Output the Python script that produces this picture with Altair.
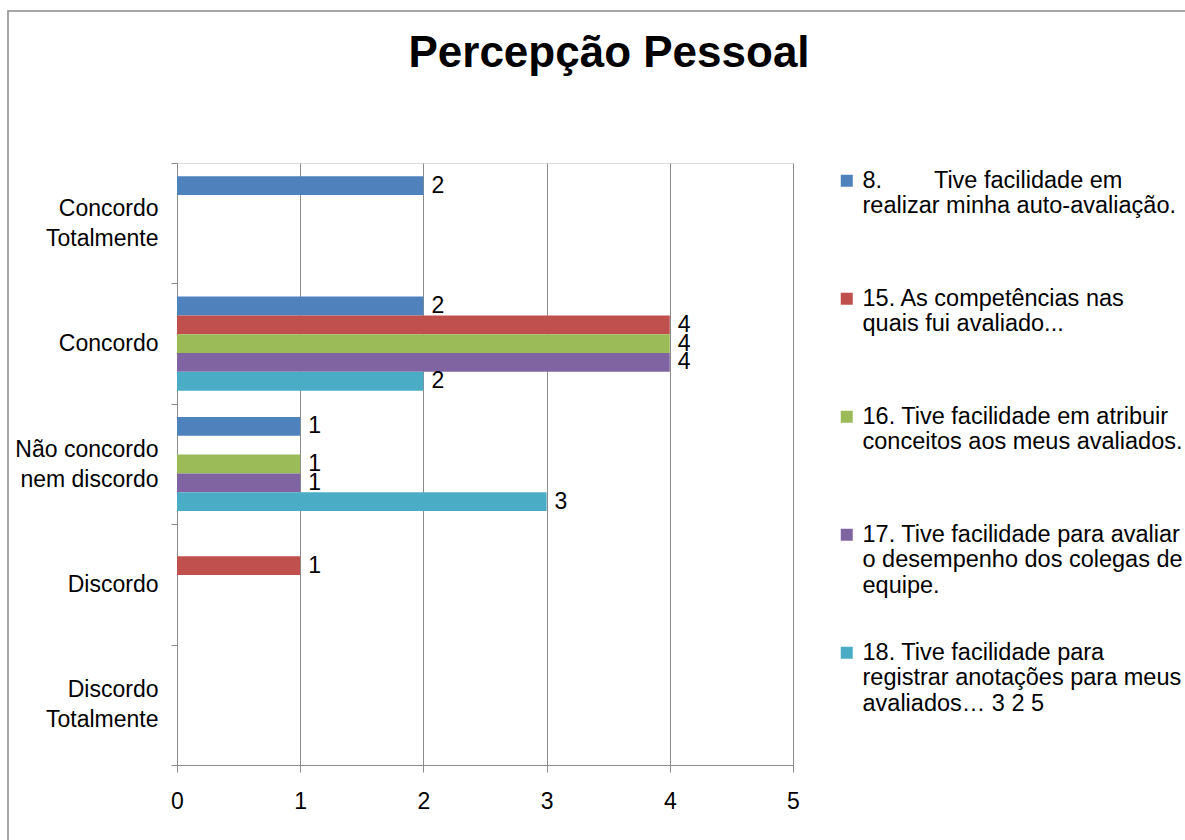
import json
import altair as alt
import pandas as pd

FONT = "Liberation Sans"

# Answer categories, top to bottom, and how each label is broken into lines
categories = [
    "Concordo Totalmente",
    "Concordo",
    "Não concordo nem discordo",
    "Discordo",
    "Discordo Totalmente",
]
category_lines = [
    ["Concordo", "Totalmente"],
    ["Concordo"],
    ["Não concordo", "nem discordo"],
    ["Discordo"],
    ["Discordo", "Totalmente"],
]

# Questions (series) and their legend text
series = ["8", "15", "16", "17", "18"]
series_lines = [
    ["8.\u00a0\u00a0\u00a0\u00a0\u00a0\u00a0\u00a0 Tive facilidade em", "realizar minha auto-avaliação."],
    ["15. As competências nas", "quais fui avaliado..."],
    ["16. Tive facilidade em atribuir", "conceitos aos meus avaliados."],
    ["17. Tive facilidade para avaliar", "o desempenho dos colegas de", "equipe."],
    ["18. Tive facilidade para", "registrar anotações para meus", "avaliados… 3 2 5"],
]
colors = ["#4F81BD", "#C0504D", "#9BBB59", "#8064A2", "#4BACC6"]

# Number of answers per category (None = no answer in that category)
q8 = [2, 2, 1, None, None]
q15 = [None, 4, None, 1, None]
q16 = [None, 4, 1, None, None]
q17 = [None, 4, 1, None, None]
q18 = [None, 2, 3, None, None]

rows = []
for key, values in zip(series, [q8, q15, q16, q17, q18]):
    for cat, v in zip(categories, values):
        if v is not None:
            rows.append({"categoria": cat, "questao": key, "respostas": v})
df = pd.DataFrame(rows)


def lines_expr(keys, lines, fallback="datum.label"):
    expr = fallback
    for k, ls in reversed(list(zip(keys, lines))):
        expr = f"datum.value == {json.dumps(k)} ? {json.dumps(ls)} : ({expr})"
    return expr


two_line_test = " || ".join(
    f"datum.value == {json.dumps(c)}" for c, ls in zip(categories, category_lines) if len(ls) == 2
)

y_enc = alt.Y(
    "categoria:N",
    sort=categories,
    scale=alt.Scale(domain=categories, paddingInner=0, paddingOuter=0),
    axis=alt.Axis(
        title=None,
        labelExpr=lines_expr(categories, category_lines),
        labelFont=FONT,
        labelFontSize=23,
        labelColor="black",
        labelAlign="right",
        labelPadding=13,
        labelLineHeight=30,
        labelLimit=300,
        labelOffset={"condition": {"test": two_line_test, "value": -15}, "value": 0},
        tickBand="extent",
        tickSize=6,
        tickColor="#8c8c8c",
        domainColor="#8c8c8c",
        grid=False,
    ),
)
yoff_enc = alt.YOffset(
    "questao:N",
    sort=series,
    scale=alt.Scale(domain=series, paddingOuter=0.7, paddingInner=0),
)
x_enc = alt.X(
    "respostas:Q",
    scale=alt.Scale(domain=[0, 5], nice=False),
    axis=alt.Axis(
        title=None,
        values=[0, 1, 2, 3, 4, 5],
        format="d",
        labelFont=FONT,
        labelFontSize=23,
        labelColor="black",
        labelPadding=18,
        labelFlush=False,
        tickSize=7,
        tickColor="#8c8c8c",
        domainColor="#8c8c8c",
        gridColor="#8c8c8c",
        gridOpacity=1,
    ),
)

base = alt.Chart(df)

bars = base.mark_bar(strokeWidth=0).encode(
    x=x_enc,
    y=y_enc,
    yOffset=yoff_enc,
    color=alt.Color(
        "questao:N",
        sort=series,
        scale=alt.Scale(domain=series, range=colors),
        legend=alt.Legend(
            title=None,
            orient="none",
            legendX=658,
            legendY=6,
            padding=0,
            symbolType="square",
            symbolSize=144,
            symbolStrokeWidth=0,
            labelFont=FONT,
            labelFontSize=23.5,
            labelColor="black",
            labelLimit=400,
            labelOffset=4,
            labelExpr=lines_expr(series, series_lines),
            rowPadding=42,
            gridAlign="all",
        ),
    ),
)

labels = base.mark_text(
    align="left", baseline="middle", dx=8, font=FONT, fontSize=23, color="black"
).encode(
    x="respostas:Q",
    y=alt.Y("categoria:N", sort=categories),
    yOffset=alt.YOffset("questao:N", sort=series),
    text=alt.Text("respostas:Q", format="d"),
)

frame = alt.Chart(pd.DataFrame({"f": [0]})).mark_rect(
    fillOpacity=0, stroke="#8a8a8a", strokeWidth=1.5
).encode(
    x=alt.value(-169), x2=alt.value(1030), y=alt.value(-152), y2=alt.value(700)
)

chart = (
    alt.layer(frame, bars, labels)
    .properties(
        width=616,
        height=602,
        autosize="none",
        padding={"left": 177, "top": 163, "right": 392, "bottom": 75},
        title=alt.TitleParams(
            text="Percepção Pessoal",
            font=FONT,
            fontSize=44,
            fontWeight="bold",
            color="black",
            anchor="middle",
            dx=124,
            offset=-66,
        ),
    )
    .configure_view(stroke=None)
    .configure(background="white")
)

chart.save("out.html", embed_options={"renderer": "svg", "actions": False})
